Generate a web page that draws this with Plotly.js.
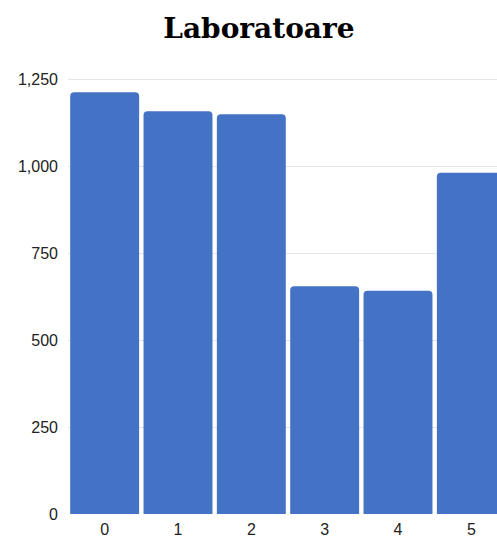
<!DOCTYPE html>
<html>
<head>
<meta charset="utf-8">
<script src="https://cdn.plot.ly/plotly-3.0.1.min.js"></script>
<style>html,body{margin:0;padding:0;background:#fff;}#chart{width:497px;height:539px;}</style>
</head>
<body>
<div id="chart"></div>
<script>
const categories = ["0", "1", "2", "3", "4", "5"];
const values = [1212, 1158, 1149, 655, 642, 981];
const yTicks = [0, 250, 500, 750, 1000, 1250];
const yTickLabels = ["0", "250", "500", "750", "1,000", "1,250"];
const chartTitle = "Laboratoare";

const trace = {
  type: "bar",
  x: categories,
  y: values,
  marker: {color: "#4472C4", cornerradius: 4, line: {width: 0}},
  hoverinfo: "x+y"
};

const layout = {
  width: 497,
  height: 539,
  paper_bgcolor: "#fff",
  plot_bgcolor: "#fff",
  margin: {l: 68, r: 0, t: 60, b: 25},
  bargap: 0.06,
  showlegend: false,
  title: {
    text: "<b>" + chartTitle + "</b>",
    font: {family: "DejaVu Serif, Liberation Serif, serif", size: 28, color: "#000"},
    x: 0.521, xanchor: "center", xref: "container",
    y: 0.948, yanchor: "middle", yref: "container"
  },
  xaxis: {
    type: "category",
    range: [-0.5, 5.35],
    showgrid: false,
    zeroline: false,
    showline: false,
    ticks: "",
    ticklabelstandoff: 4,
    tickfont: {family: "Liberation Sans, Arial, sans-serif", size: 16, color: "#222"}
  },
  yaxis: {
    range: [0, 1305],
    tickvals: yTicks,
    ticktext: yTickLabels,
    showgrid: true,
    gridcolor: "#e6e6e6",
    gridwidth: 1,
    zeroline: false,
    showline: false,
    ticks: "",
    ticklabelstandoff: 9,
    tickfont: {family: "Liberation Sans, Arial, sans-serif", size: 16, color: "#222"}
  }
};

Plotly.newPlot("chart", [trace], layout, {displayModeBar: false, staticPlot: true});
</script>
</body>
</html>
